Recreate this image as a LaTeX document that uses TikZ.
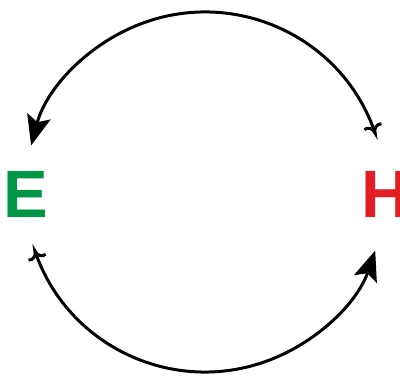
\documentclass[tikz,border=0pt]{standalone}
\usepackage{fontspec}
\setmainfont{Liberation Sans}
\usepackage{tikz}
\usetikzlibrary{arrows.meta,calc}
\definecolor{egreen}{RGB}{0,150,72}
\definecolor{hred}{RGB}{226,30,36}
\tikzset{
  letter/.style={inner sep=0pt, anchor=base west, font=\fontsize{67}{67}\selectfont\bfseries},
  cycle/.style={line width=3pt, {Hooks[reversed,arc=110,scale=2]}-{Stealth[length=30pt,width=24pt,inset=6pt]}}
}
\begin{document}
\begin{tikzpicture}[x=1pt, y=1pt]
\useasboundingbox (0,0) rectangle (400,379);
\clip (0,0) rectangle (400,379);
% letters
\node[letter, egreen] (E) at (3,161) {E};
\node[letter, hred] (H) at (361,161) {H};
% arcs
\coordinate (mid) at (205,187);
\coordinate (topR) at ($(mid)+(19:180)$);
\coordinate (botL) at ($(mid)+(199:180)$);
\draw[cycle] (topR) arc[start angle=19, end angle=165, radius=180];
\draw[cycle] (botL) arc[start angle=199, end angle=341, radius=180];
\end{tikzpicture}
\end{document}
